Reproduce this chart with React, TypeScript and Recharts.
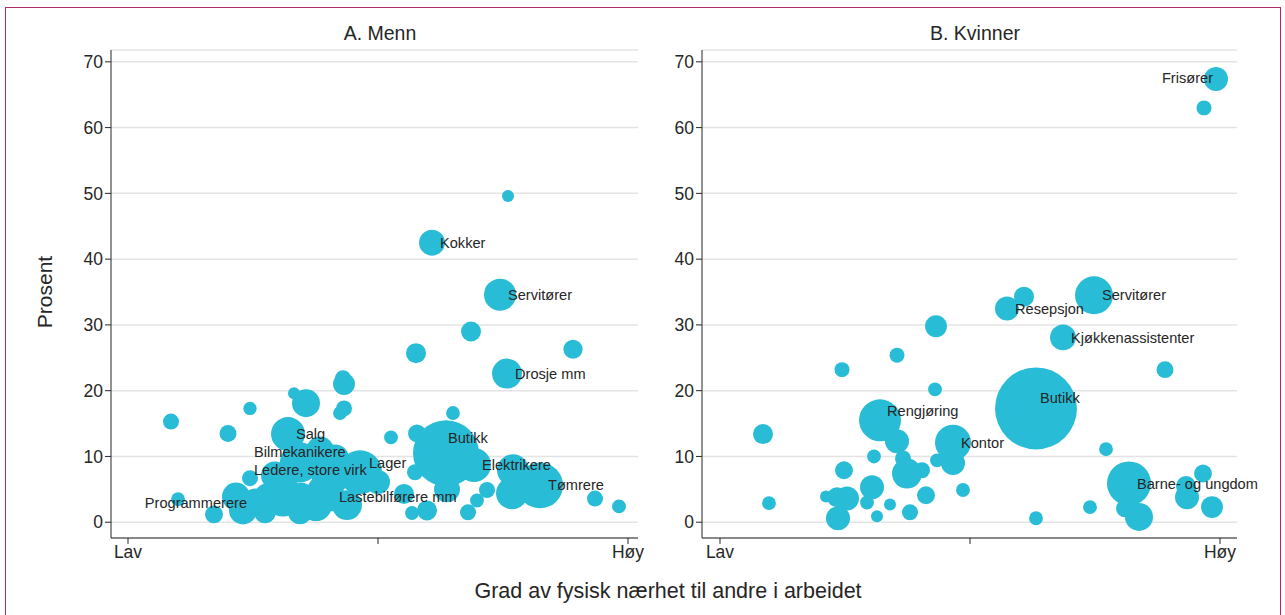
import React from "react";
import { ScatterChart, Scatter, XAxis, YAxis, ZAxis, CartesianGrid } from "recharts";

const FONT = "'Liberation Sans', Arial, Helvetica, sans-serif";
const BUBBLE = "#29bcd6";
const INK = "#262626";

// A. Menn — nærhet (0 = lav, 100 = høy), prosent, antall (vekt), yrke
const mennNarhet = [
  76.0, 60.8, 74.4, 68.6, 57.6, 89.0, 75.8, 43.0, 43.2, 43.2, 42.4, 35.6, 33.2, 24.4, 8.6, 20.0,
  52.6, 65.0, 10.0, 17.2, 93.4, 98.2, 21.6, 23.0, 24.4, 32.0, 34.4, 31.0, 37.6, 27.4, 40.4, 46.4,
  40.6, 43.8, 55.2, 56.8, 59.8, 25.4, 57.8, 63.6, 57.4, 63.8, 68.0, 69.8, 71.8, 69.2, 77.0, 76.8,
  82.4, 34.4, 29.4, 38.4, 39.4, 34.4, 28.0, 41.4, 50.0,
];
const mennProsent = [
  49.6, 42.5, 34.6, 29.0, 25.7, 26.3, 22.6, 21.9, 21.0, 17.3, 16.6, 18.1, 19.6, 17.3, 15.3, 13.5,
  12.9, 16.6, 3.5, 1.2, 3.6, 2.4, 3.9, 1.8, 6.7, 13.4, 9.1, 3.9, 2.6, 1.5, 6.7, 7.6,
  3.8, 2.6, 4.3, 1.4, 1.8, 3.3, 13.5, 10.5, 7.6, 5.0, 1.5, 3.3, 4.9, 8.7, 7.9, 4.4,
  5.6, 1.5, 7.1, 10.9, 4.6, 3.3, 3.8, 9.7, 6.1,
];
const mennAntall = [
  9, 42, 64, 25, 25, 23, 56, 16, 30, 16, 12, 49, 9, 11, 16, 18,
  12, 12, 12, 20, 16, 12, 49, 49, 16, 72, 100, 100, 64, 30, 81, 121,
  49, 56, 25, 12, 25, 36, 20, 272, 16, 42, 16, 12, 16, 72, 64, 64,
  132, 36, 49, 49, 81, 81, 49, 49, 36,
];
const mennYrke = [
  "", "Kokker", "Servitører", "", "", "", "Drosje mm", "", "", "", "", "", "", "", "", "",
  "", "", "", "", "", "", "", "", "", "Salg", "Bilmekanikere", "Ledere, store virk", "", "", "", "Lager",
  "Lastebilførere mm", "", "", "", "", "Programmerere", "", "Butikk", "", "", "", "", "", "Elektrikere", "", "",
  "Tømrere", "", "", "", "", "", "", "", "",
];

// B. Kvinner
const kvinnerNarhet = [
  99.2, 96.8, 74.8, 60.8, 57.4, 43.2, 68.6, 35.4, 24.4, 89.0, 43.0, 63.2, 32.0, 8.6, 46.6, 35.4,
  77.2, 30.8, 46.6, 36.6, 24.8, 37.4, 40.4, 43.4, 48.6, 41.2, 30.4, 38.0, 31.4, 34.0, 29.4, 25.4,
  23.4, 21.2, 23.6, 9.8, 63.2, 74.0, 81.8, 81.0, 83.8, 93.4, 93.2, 96.6, 98.4,
];
const kvinnerProsent = [
  67.4, 63.0, 34.5, 34.3, 32.5, 29.8, 28.1, 25.4, 23.2, 23.2, 20.2, 17.3, 15.5, 13.4, 12.1, 12.3,
  11.1, 10.0, 9.0, 9.7, 7.9, 7.4, 7.9, 9.4, 4.9, 4.1, 5.3, 1.5, 0.9, 2.7, 3.0, 3.6,
  3.8, 3.9, 0.6, 2.9, 0.6, 2.3, 5.9, 2.1, 0.8, 3.8, 5.5, 7.4, 2.3,
];
const kvinnerAntall = [
  36, 14, 90, 25, 36, 30, 42, 14, 14, 18, 12, 420, 110, 25, 81, 36,
  12, 12, 36, 16, 20, 56, 16, 12, 12, 20, 36, 16, 9, 9, 12, 36,
  25, 9, 36, 12, 12, 12, 121, 20, 49, 36, 25, 20, 30,
];
const kvinnerYrke = [
  "Frisører", "", "Servitører", "", "Resepsjon", "", "Kjøkkenassistenter", "", "", "", "", "Butikk", "Rengjøring", "", "Kontor", "",
  "", "", "", "", "", "", "", "", "", "", "", "", "", "", "", "",
  "", "", "", "", "", "", "Barne- og ungdom", "", "", "", "", "", "",
];

const yTicks = [0, 10, 20, 30, 40, 50, 60, 70];
const xTicks = [0, 50, 100];
const xTickLabels = ["Lav", "", "Høy"];

type Nudge = { dx: number; dy: number; anchor?: "start" | "end" };
const mennNudge: Record<string, Nudge> = {
  Bilmekanikere: { dx: -46, dy: -10 },
  "Ledere, store virk": { dx: -29, dy: -27 },
  Lager: { dx: 9, dy: -9 },
  Butikk: { dx: 2, dy: -15 },
  Programmerere: { dx: -8, dy: 2, anchor: "end" },
};
const kvinnerNudge: Record<string, Nudge> = {
  Frisører: { dx: -3, dy: -1, anchor: "end" },
  Butikk: { dx: 4, dy: -11 },
  Rengjøring: { dx: 7, dy: -9 },
};

function buildRows(x: number[], y: number[], n: number[], name: string[]) {
  return x.map((v, i) => ({ x: v, y: y[i], n: n[i], name: name[i] }));
}

const mennRows = buildRows(mennNarhet, mennProsent, mennAntall, mennYrke);
const kvinnerRows = buildRows(kvinnerNarhet, kvinnerProsent, kvinnerAntall, kvinnerYrke);

function makeLabel(nudge: Record<string, Nudge>) {
  return (props: any) => {
    const { cx, cy, payload } = props;
    const nd = nudge[payload.name] || { dx: 8, dy: 0 };
    return (
      <text
        x={cx + nd.dx}
        y={cy + nd.dy}
        dy="0.35em"
        textAnchor={nd.anchor || "start"}
        fontSize={14.6}
        fill={INK}
        fontFamily={FONT}
      >
        {payload.name}
      </text>
    );
  };
}

function Panel({
  rows,
  nudge,
  left,
  width,
  margin,
  xDomain,
}: {
  rows: any[];
  nudge: Record<string, Nudge>;
  left: number;
  width: number;
  margin: { top: number; right: number; bottom: number; left: number };
  xDomain: [number, number];
}) {
  const labelled = rows.filter((r) => r.name);
  return (
    <div style={{ position: "absolute", left, top: 0 }}>
      <ScatterChart width={width} height={600} margin={margin}>
        <CartesianGrid vertical={false} stroke="#e4e4e4" strokeWidth={1.5} />
        <XAxis
          type="number"
          dataKey="x"
          domain={xDomain}
          ticks={xTicks}
          tickFormatter={(v: number) => xTickLabels[xTicks.indexOf(v)]}
          height={30}
          tickSize={6}
          stroke={INK}
          tick={{ fontSize: 17.5, fill: INK }}
        />
        <YAxis
          type="number"
          dataKey="y"
          domain={[-2.4, 71.8]}
          ticks={yTicks}
          width={50}
          tickSize={6}
          stroke={INK}
          tick={{ fontSize: 17.5, fill: INK }}
        />
        <ZAxis type="number" dataKey="n" domain={[0, 500]} range={[0, 6283]} />
        <Scatter data={rows} fill={BUBBLE} isAnimationActive={false} />
        <Scatter data={labelled} shape={makeLabel(nudge)} isAnimationActive={false} />
      </ScatterChart>
    </div>
  );
}

export default function App() {
  return (
    <div
      style={{
        position: "absolute",
        left: 0,
        top: 0,
        width: 1285,
        height: 615,
        overflow: "hidden",
        background: "#fff",
        fontFamily: FONT,
        color: INK,
      }}
    >
      <div
        style={{
          position: "absolute",
          left: 5,
          top: 7,
          width: 1274,
          height: 700,
          border: "1px solid #b0296a",
        }}
      />
      <Panel
        rows={mennRows}
        nudge={mennNudge}
        left={0}
        width={660}
        margin={{ top: 50, right: 22, bottom: 32, left: 61 }}
        xDomain={[-3.4, 102]}
      />
      <Panel
        rows={kvinnerRows}
        nudge={kvinnerNudge}
        left={640}
        width={645}
        margin={{ top: 50, right: 48, bottom: 32, left: 12 }}
        xDomain={[-3.6, 103.4]}
      />
      <div style={{ position: "absolute", left: 280, width: 200, top: 22, textAlign: "center", fontSize: 19.5, lineHeight: "22px" }}>
        A. Menn
      </div>
      <div style={{ position: "absolute", left: 875, width: 200, top: 22, textAlign: "center", fontSize: 19.5, lineHeight: "22px" }}>
        B. Kvinner
      </div>
      <div
        style={{
          position: "absolute",
          left: 45 - 60,
          top: 292 - 13,
          width: 120,
          textAlign: "center",
          fontSize: 21,
          lineHeight: "26px",
          transform: "rotate(-90deg)",
        }}
      >
        Prosent
      </div>
      <div style={{ position: "absolute", left: 368, width: 600, top: 578, textAlign: "center", fontSize: 21.5, lineHeight: "26px" }}>
        Grad av fysisk nærhet til andre i arbeidet
      </div>
    </div>
  );
}
